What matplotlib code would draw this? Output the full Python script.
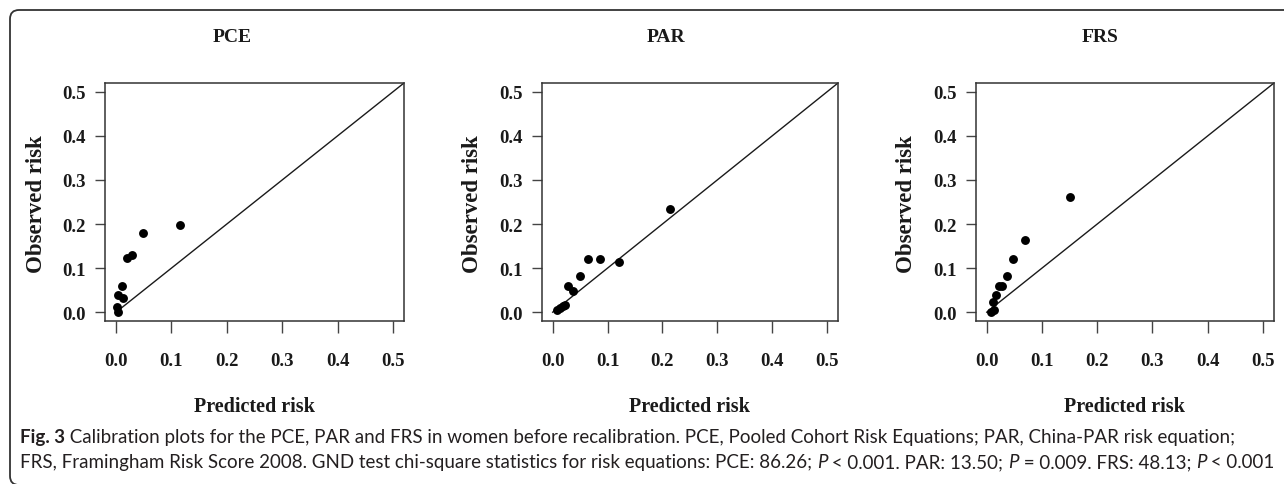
import numpy as np
import matplotlib
matplotlib.use("Agg")
import matplotlib.pyplot as plt
from matplotlib.path import Path
from matplotlib.patches import PathPatch
from matplotlib.transforms import IdentityTransform

# calibration data (predicted, observed)
pce_pred = [0.002, 0.003, 0.004, 0.010, 0.013, 0.019, 0.028, 0.048, 0.116]
pce_obs = [0.011, 0.000, 0.038, 0.059, 0.033, 0.124, 0.130, 0.179, 0.197]

par_pred = [0.007, 0.013, 0.018, 0.022, 0.028, 0.037, 0.049, 0.065, 0.087, 0.121, 0.213]
par_obs = [0.005, 0.009, 0.013, 0.017, 0.059, 0.048, 0.081, 0.120, 0.120, 0.114, 0.235]

frs_pred = [0.007, 0.011, 0.014, 0.017, 0.022, 0.028, 0.036, 0.048, 0.070, 0.151]
frs_obs = [0.000, 0.023, 0.005, 0.038, 0.059, 0.059, 0.081, 0.120, 0.163, 0.261]

titles = ["PCE", "PAR", "FRS"]
ticks = [0.0, 0.1, 0.2, 0.3, 0.4, 0.5]
tick_labels = ["0.0", "0.1", "0.2", "0.3", "0.4", "0.5"]

W, H = 1284, 485
fig = plt.figure(figsize=(W / 100, H / 100), dpi=100)

serif = "Liberation Serif"
ink = "#1a1a1a"

# axes boxes in pixels: left, right (top 84, bottom 322)
boxes = [(105, 404), (541.7, 838), (975.7, 1274)]
title_x = [232, 666, 1100]
ylab_x = [36, 473, 907]
data = [(pce_pred, pce_obs), (par_pred, par_obs), (frs_pred, frs_obs)]

for i in range(3):
    l, r = boxes[i]
    ax = fig.add_axes([l / W, (H - 322) / H, (r - l) / W, (322 - 84) / H])
    x, y = data[i]
    ax.plot([0, 1], [0, 1], color=ink, lw=1.0)
    ax.plot(x, y, "o", color="black", ms=6.4, mew=0)
    ax.set_xlim(-0.02, 0.52)
    ax.set_ylim(-0.02, 0.52)
    ax.set_xticks(ticks)
    ax.set_yticks(ticks)
    ax.set_xticklabels(tick_labels, fontfamily=serif, fontweight="bold", fontsize=13.5, color=ink)
    ax.set_yticklabels(tick_labels, fontfamily=serif, fontweight="bold", fontsize=13.5, color=ink)
    ax.tick_params(axis="x", direction="out", length=8.5, width=1.0, pad=14, color="#444444")
    ax.tick_params(axis="y", direction="out", length=7, width=1.0, pad=7, color="#444444")
    for s in ax.spines.values():
        s.set_linewidth(1.1)
        s.set_color("#333333")
    fig.text(title_x[i] / W, 1 - 37 / H, titles[i], ha="center", va="center",
             fontfamily=serif, fontweight="bold", fontsize=14, color=ink)
    fig.text((l + r) / 2 / W, 1 - 407 / H, "Predicted risk", ha="center", va="center",
             fontfamily=serif, fontweight="bold", fontsize=14.5, color=ink)
    fig.text(ylab_x[i] / W, 1 - 204 / H, "Observed risk", ha="center", va="center",
             rotation=90, fontfamily=serif, fontweight="bold", fontsize=16.5, color=ink)

# rounded frame: only top and left edges fall inside the picture
r = 9
top = H - 11
bot = -1
verts = [(W + 10, top), (10 + r, top), (10, top), (10, top - r),
         (10, bot + r), (10, bot), (10 + r, bot), (W + 10, bot)]
codes = [Path.MOVETO, Path.LINETO, Path.CURVE3, Path.CURVE3,
         Path.LINETO, Path.CURVE3, Path.CURVE3, Path.LINETO]
fig.patches.append(PathPatch(Path(verts, codes), transform=IdentityTransform(),
                             fill=False, edgecolor="#333333", lw=1.3))

cap_font = "Lato"

line1 = [("Fig. 3", "bold", "normal"),
         (" Calibration plots for the PCE, PAR and FRS in women before recalibration. "
          "PCE, Pooled Cohort Risk Equations; PAR, China-PAR risk equation;", "normal", "normal")]
line2 = [("FRS, Framingham Risk Score 2008. GND test chi-square statistics for risk equations: PCE: 86.26; ",
          "normal", "normal"),
         ("P", "normal", "italic"), (" < 0.001. PAR: 13.50; ", "normal", "normal"),
         ("P", "normal", "italic"), (" = 0.009. FRS: 48.13; ", "normal", "normal"),
         ("P", "normal", "italic"), (" < 0.001", "normal", "normal")]

fig.canvas.draw()
renderer = fig.canvas.get_renderer()


def draw_line(pieces, x0, y0, size, show=True):
    x = x0
    made = []
    for txt, weight, style in pieces:
        t = fig.text(x / W, 1 - y0 / H, txt, ha="left", va="baseline",
                     fontfamily=cap_font, fontweight=weight, fontstyle=style,
                     fontsize=size, color="#231f20")
        x += t.get_window_extent(renderer).width
        made.append(t)
    if not show:
        for t in made:
            t.remove()
    return x - x0


# size the caption so both lines end near where they end in the picture
base = 10.0
w1 = draw_line(line1, 20, 444, base, show=False)
w2 = draw_line(line2, 20, 468, base, show=False)
cap_size = min(base * (1272 - 20) / w1, base * (1272 - 20) / w2)

draw_line(line1, 20, 443, cap_size)
draw_line(line2, 20, 468, cap_size)

fig.savefig("out.png", dpi=100)
